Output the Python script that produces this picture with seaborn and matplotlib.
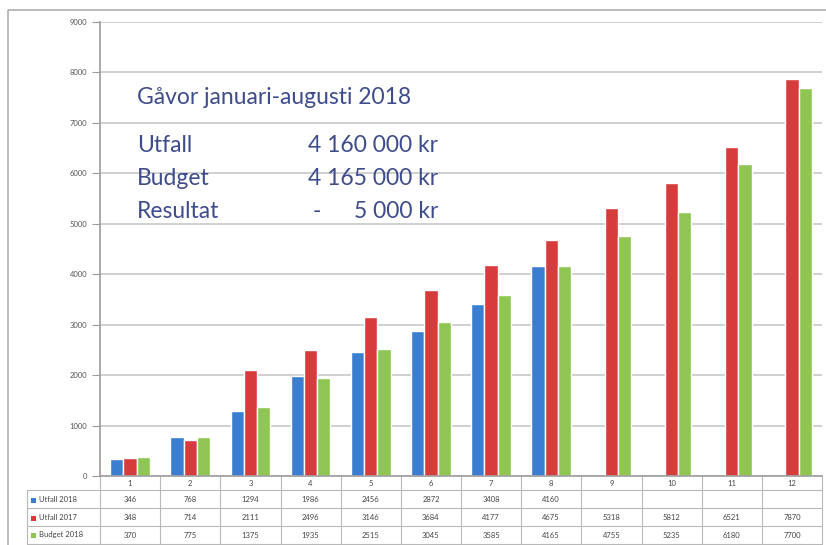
import numpy as np
import pandas as pd
import matplotlib
matplotlib.use("Agg")
import matplotlib.pyplot as plt
import matplotlib.transforms as mtransforms
from matplotlib.lines import Line2D
from matplotlib.patches import Rectangle
import seaborn as sns

months = ["1", "2", "3", "4", "5", "6", "7", "8", "9", "10", "11", "12"]
utfall_2018 = [346, 768, 1294, 1986, 2456, 2872, 3408, 4160]
utfall_2017 = [348, 714, 2111, 2496, 3146, 3684, 4177, 4675, 5318, 5812, 6521, 7870]
budget_2018 = [370, 775, 1375, 1935, 2515, 3045, 3585, 4165, 4755, 5235, 6180, 7700]
series_names = ["Utfall 2018", "Utfall 2017", "Budget 2018"]
colors = ["#3b7dd0", "#d63c3c", "#8fc653"]

title_text = "Gåvor januari-augusti 2018"
summary = [("Utfall", "", "4 160 000 kr"),
           ("Budget", "", "4 165 000 kr"),
           ("Resultat", "-", "5 000 kr")]

rows = []
for name, vals in zip(series_names, [utfall_2018, utfall_2017, budget_2018]):
    for m, v in zip(months, vals):
        rows.append({"month": m, "series": name, "value": v})
df = pd.DataFrame(rows)

sns.set_theme(style="white")
plt.rcParams["font.family"] = ["Lato", "DejaVu Sans"]

W, H = 826, 545
fig = plt.figure(figsize=(W / 100, H / 100), dpi=100)
fig.patch.set_facecolor("white")

# outer chart frame
frame = fig.add_axes([0, 0, 1, 1])
frame.set_xlim(0, W)
frame.set_ylim(H, 0)
frame.axis("off")
frame.add_patch(Rectangle((8, 10), W + 20, H, fill=False, edgecolor="#b0b0b0", lw=1.2))

x0, x1, ytop, ybot = 100, 822, 22, 476
ax = fig.add_axes([x0 / W, 1 - ybot / H, (x1 - x0) / W, (ybot - ytop) / H])
sns.barplot(data=df, x="month", y="value", hue="series", order=months,
            hue_order=series_names, palette=colors, width=0.66, gap=0,
            saturation=1, ax=ax, legend=False)
ax.set_ylim(0, 9000)
ax.set_yticks(np.arange(0, 9001, 1000))
ax.set_yticklabels([str(t) for t in range(0, 9001, 1000)], fontsize=5.5, color="#555555")
ax.tick_params(axis="y", length=6, width=0.8, color="#999999", pad=3, left=True)
ax.set_xticks([])
ax.set_xlabel("")
ax.set_ylabel("")
ax.grid(axis="y", color="#c4c4c4", lw=1.1)
ax.set_axisbelow(True)
for s in ["top", "right"]:
    ax.spines[s].set_visible(False)
ax.spines["left"].set_color("#a0a0a0")
ax.spines["bottom"].set_color("#a0a0a0")
ax.set_facecolor("white")

# summary text
txt_color = "#3e4c8c"
ax.text(0.051, 0.834, title_text, transform=ax.transAxes, fontsize=16.5,
        color=txt_color, va="center", ha="left")
for i, (lab, sign, val) in enumerate(summary):
    yy = 0.727 - i * 0.0725
    ax.text(0.051, yy, lab, transform=ax.transAxes, fontsize=16.5,
            color=txt_color, va="center", ha="left")
    ax.text(0.468, yy, val, transform=ax.transAxes, fontsize=16.5,
            color=txt_color, va="center", ha="right")
    if sign:
        ax.text(0.30, yy, sign, transform=ax.transAxes, fontsize=16.5,
                color=txt_color, va="center", ha="center")

# data table below the axis
trans = mtransforms.blended_transform_factory(ax.transData, ax.transAxes)
hpx = ybot - ytop
def yfrac(py):
    return (ybot - py) / hpx

row_lines = [490, 508, 526, 544]
row_centers = [483, 500, 518, 535]
line_col = "#b8b8b8"
for py in row_lines:
    fig.add_artist(Line2D([27 / W, x1 / W], [1 - py / H, 1 - py / H],
                          color=line_col, lw=0.8))
for k in range(13):
    ax.add_line(Line2D([k - 0.5, k - 0.5], [0, yfrac(H)], transform=trans,
                       color=line_col, lw=0.8, clip_on=False))
fig.add_artist(Line2D([27 / W, 27 / W], [1 - row_lines[0] / H, 0], color=line_col, lw=0.8))

for i, m in enumerate(months):
    ax.text(i, yfrac(row_centers[0]), m, transform=trans, ha="center",
            va="center", fontsize=5.5, color="#444444", clip_on=False)
for r, (name, vals, c) in enumerate(zip(series_names,
                                         [utfall_2018, utfall_2017, budget_2018], colors)):
    yc = row_centers[r + 1]
    fig.add_artist(Rectangle((31 / W, 1 - (yc + 2.5) / H), 5 / W, 5 / H,
                             facecolor=c, edgecolor="none"))
    fig.text(39 / W, 1 - yc / H, name, fontsize=5.5, color="#444444", va="center")
    for i, v in enumerate(vals):
        ax.text(i, yfrac(yc), str(v), transform=trans, ha="center",
                va="center", fontsize=5.5, color="#444444", clip_on=False)

ax.set_xlim(-0.5, len(months) - 0.5)
fig.savefig("out.png", dpi=100)
